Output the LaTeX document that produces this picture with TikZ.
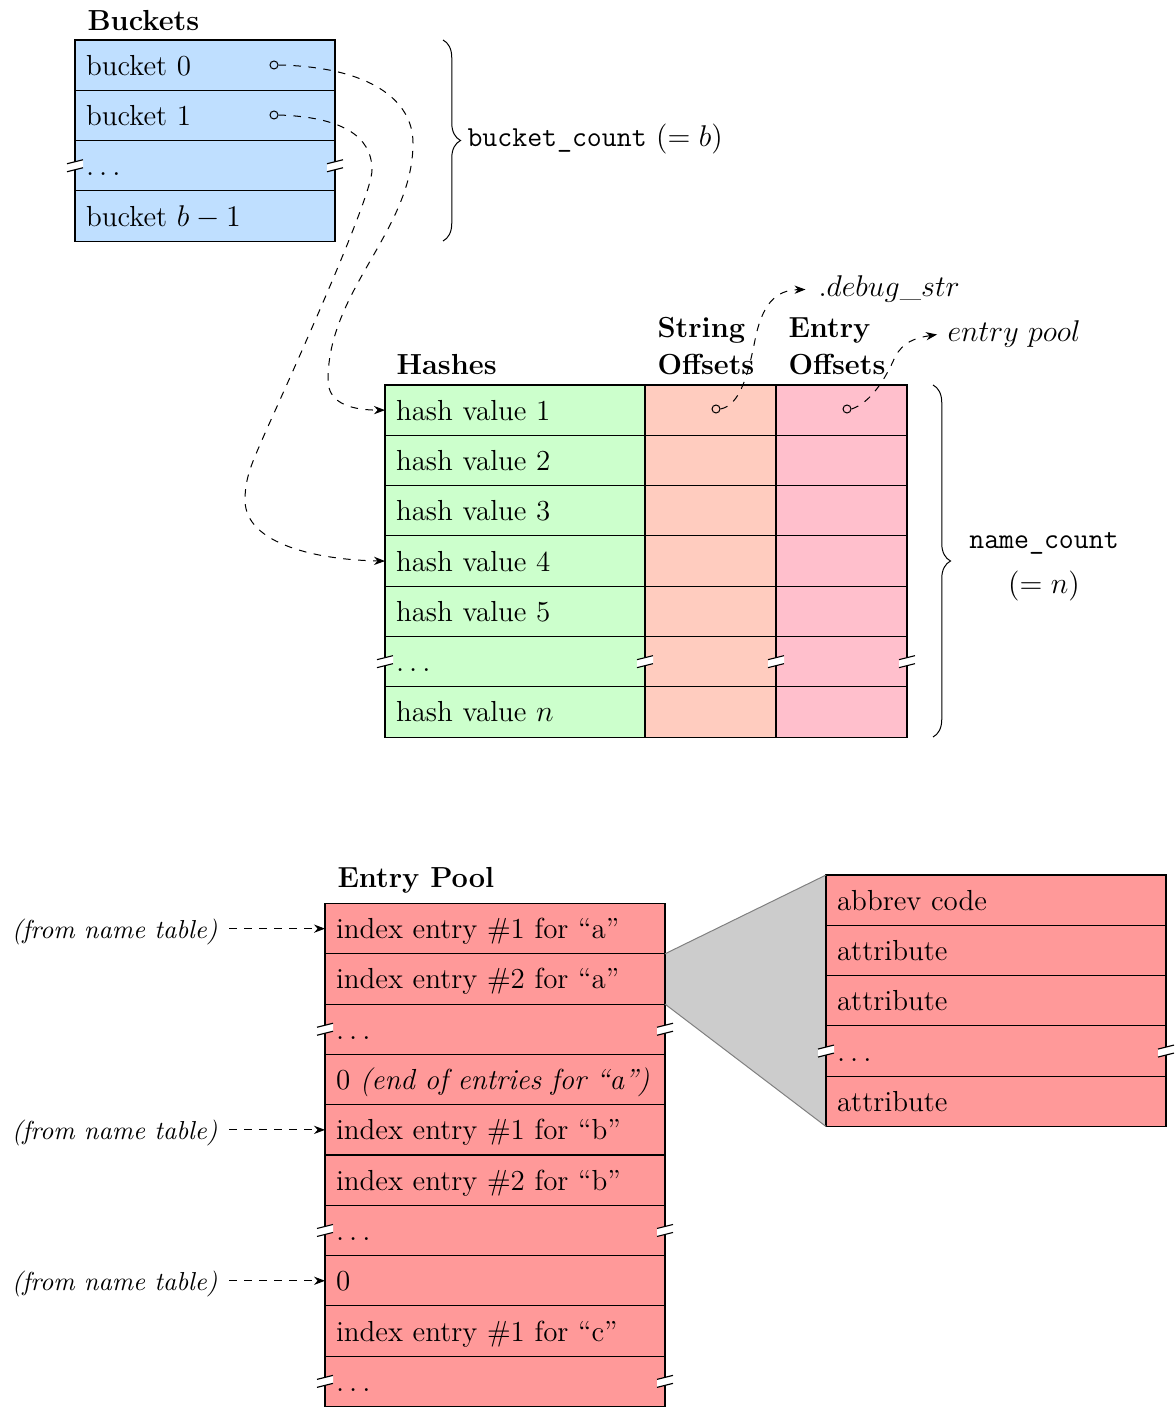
\documentclass[tikz,border=0pt]{standalone}
\usepackage{fontspec}
\usetikzlibrary{positioning,arrows.meta,decorations.pathreplacing,backgrounds}
\definecolor{bucketblue}{RGB}{191,223,255}
\definecolor{hashgreen}{RGB}{204,255,204}
\definecolor{stroff}{RGB}{255,204,191}
\definecolor{entoff}{RGB}{255,191,204}
\definecolor{poolred}{RGB}{255,153,153}
\begin{document}
\begin{tikzpicture}[x=0.4pt,y=-0.4pt,
  every node/.style={font=\fontsize{11.6}{14}\selectfont},
  cellbox/.style={draw=black, line width=0.45pt, outer sep=0pt, minimum height=20.12pt,
    inner xsep=4.4pt, inner ysep=0pt, text height=8pt, text depth=0pt, align=left},
  bktcell/.style={cellbox, fill=bucketblue, text width=95.2pt},
  hashcell/.style={cellbox, fill=hashgreen, text width=95.2pt},
  strcell/.style={cellbox, fill=stroff, text width=43.6pt},
  entcell/.style={cellbox, fill=entoff, text width=43.6pt},
  poolcell/.style={cellbox, fill=poolred, text width=127.2pt},
  hdrtext/.style={font=\fontsize{11.6}{14}\selectfont\bfseries, anchor=base west, inner sep=0pt},
  lbltext/.style={anchor=base west, inner sep=0pt},
  fromlbl/.style={font=\fontsize{10.4}{12}\selectfont\itshape, inner xsep=4.4pt, inner ysep=0pt,
    text height=8pt, text depth=0pt, anchor=east},
  ptrline/.style={dashed, line width=0.4pt, -{Stealth[length=4.4pt,width=3.3pt]}},
  ptrdot/.style={circle, draw, line width=0.4pt, inner sep=0pt, minimum size=3.2pt},
  bracepath/.style={decorate, decoration={brace, amplitude=7pt}, line width=0.4pt},
  brkmark/.pic={
    \fill[white] (-8,-2) -- (8,-6) -- (8,2) -- (-8,6) -- cycle;
    \draw[line width=0.45pt] (-8,-2) -- (8,-6) (-8,6) -- (8,2);
  },
]
\useasboundingbox (0,0) rectangle (1175,1417);

% ---------------- Buckets ----------------
\node[hdrtext] (bkhdr) at (87,31) {Buckets};
\node[bktcell, anchor=north west] (b0) at (75,40) {bucket 0};
\node[bktcell, below=0pt of b0] (b1) {bucket 1};
\node[bktcell, below=0pt of b1] (b2) {$\ldots$};
\node[bktcell, below=0pt of b2] (b3) {bucket $b-1$};
\node[ptrdot] (b0dot) at (274,65) {};
\node[ptrdot] (b1dot) at (274,115) {};
\draw[bracepath] (443,40) -- (443,241);
\node[lbltext] (bcount) at (467,147) {\texttt{bucket\_count} $(=b)$};

% ---------------- Hashes ----------------
\node[hdrtext] (hhdr) at (396,375) {Hashes};
\node[hdrtext] (shdr1) at (657,338) {String};
\node[hdrtext] (shdr2) at (657,375) {Offsets};
\node[hdrtext] (ehdr1) at (788,338) {Entry};
\node[hdrtext] (ehdr2) at (788,375) {Offsets};

\node[hashcell, anchor=north west] (h1) at (385,385) {hash value 1};
\node[hashcell, below=0pt of h1] (h2) {hash value 2};
\node[hashcell, below=0pt of h2] (h3) {hash value 3};
\node[hashcell, below=0pt of h3] (h4) {hash value 4};
\node[hashcell, below=0pt of h4] (h5) {hash value 5};
\node[hashcell, below=0pt of h5] (h6) {$\ldots$};
\node[hashcell, below=0pt of h6] (h7) {hash value $n$};

\node[strcell, anchor=north west] (s1) at (645,385) {};
\node[entcell, anchor=north west] (e1) at (776,385) {};
\foreach \i [count=\j from 2] in {1,...,6} {
  \node[strcell, below=0pt of s\i] (s\j) {};
  \node[entcell, below=0pt of e\i] (e\j) {};
}
\node[ptrdot] (sdot) at (716,409) {};
\node[ptrdot] (edot) at (847,409) {};
\node[lbltext, inner xsep=5pt] (dbg) at (805.5,297) {$.debug\_str$};
\node[lbltext, inner xsep=4pt] (epool) at (937,342) {$entry\ pool$};
\draw[ptrline] (sdot.east) .. controls (740,405) and (748,375) .. (755,340)
  .. controls (762,305) and (775,290) .. (dbg.west);
\draw[ptrline] (edot.east) .. controls (870,403) and (885,380) .. (895,357)
  .. controls (903,342) and (915,338) .. (epool.west);

\draw[bracepath] (933,385) -- (933,737);
\node[anchor=base] (ncount) at (1044,548) {\texttt{name\_count}};
\node[anchor=base] (neq) at (1044,593) {$(=n)$};

% bucket pointers
\draw[ptrline] (b0dot.east) .. controls (370,67) and (413,100) .. (413,143)
  .. controls (413,230) and (328,290) .. (328,380)
  .. controls (328,400) and (345,410) .. (h1.west);
\draw[ptrline] (b1dot.east) .. controls (340,117) and (372,135) .. (372,170)
  .. controls (372,200) and (275,410) .. (262,440)
  .. controls (252,463) and (245,478) .. (245,500)
  .. controls (245,545) and (320,560) .. (h4.west);

% ---------------- Entry pool ----------------
\node[hdrtext] (phdr) at (337,887) {Entry Pool};
\node[poolcell, anchor=north west] (p1) at (325,903.5) {index entry \#1 for “a”};
\node[poolcell, below=0pt of p1] (p2) {index entry \#2 for “a”};
\node[poolcell, below=0pt of p2] (p3) {$\ldots$};
\node[poolcell, below=0pt of p3] (p4) {\mbox{0 \textit{(end of entries for “a”)}}};
\node[poolcell, below=0pt of p4] (p5) {index entry \#1 for “b”};
\node[poolcell, below=0pt of p5] (p6) {index entry \#2 for “b”};
\node[poolcell, below=0pt of p6] (p7) {$\ldots$};
\node[poolcell, below=0pt of p7] (p8) {0};
\node[poolcell, below=0pt of p8] (p9) {index entry \#1 for “c”};
\node[poolcell, below=0pt of p9] (p10) {$\ldots$};

\node[fromlbl, left=38.4pt of p1] (f1) {(from name table)};
\node[fromlbl, left=38.4pt of p5] (f2) {(from name table)};
\node[fromlbl, left=38.4pt of p8] (f3) {(from name table)};
\draw[ptrline] (f1.east) -- (p1.west);
\draw[ptrline] (f2.east) -- (p5.west);
\draw[ptrline] (f3.east) -- (p8.west);

% ---------------- Abbreviation detail ----------------
\node[poolcell, anchor=north west] (a1) at (826,875) {abbrev code};
\node[poolcell, below=0pt of a1] (a2) {attribute};
\node[poolcell, below=0pt of a2] (a3) {attribute};
\node[poolcell, below=0pt of a3] (a4) {$\ldots$};
\node[poolcell, below=0pt of a4] (a5) {attribute};

\begin{pgfonlayer}{background}
  \fill[gray!40] (p2.north east) -- (a1.north west) -- (a5.south west) -- (p2.south east) -- cycle;
\end{pgfonlayer}
\draw[gray, line width=0.4pt] (p2.north east) -- (a1.north west) (p2.south east) -- (a5.south west);

% ---------------- break marks ----------------
\pic at (b2.west) {brkmark};  \pic at (b2.east) {brkmark};
\pic at (h6.west) {brkmark};  \pic at (h6.east) {brkmark};
\pic at (s6.east) {brkmark};  \pic at (e6.east) {brkmark};
\pic at (p3.west) {brkmark};  \pic at (p3.east) {brkmark};
\pic at (p7.west) {brkmark};  \pic at (p7.east) {brkmark};
\pic at (p10.west) {brkmark}; \pic at (p10.east) {brkmark};
\pic at (a4.west) {brkmark};  \pic at (a4.east) {brkmark};
\end{tikzpicture}
\end{document}
